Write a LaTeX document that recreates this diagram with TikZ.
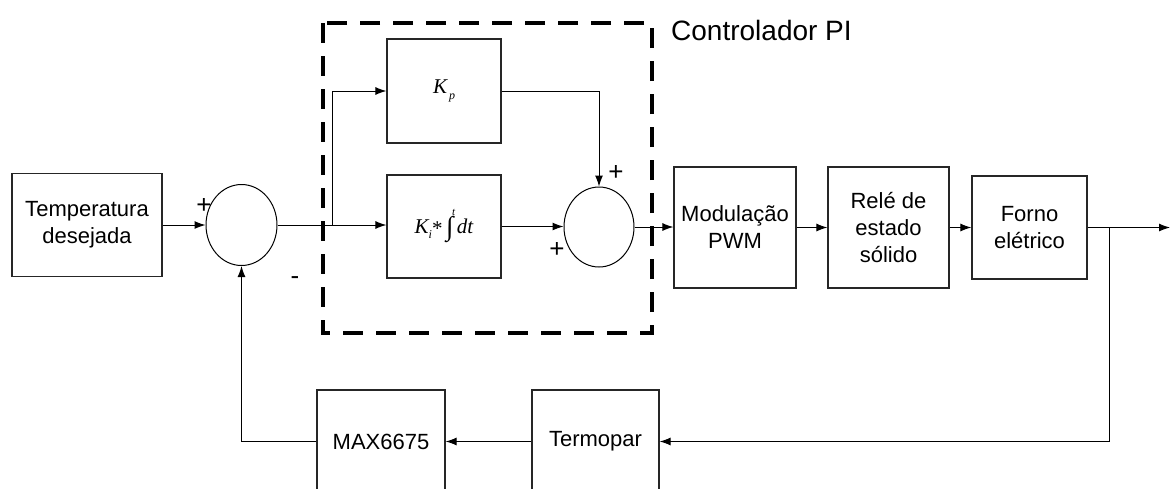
\documentclass[tikz,border=0pt]{standalone}
\usepackage{fontspec}
\setmainfont{Liberation Sans}
\newfontfamily\tms{Liberation Serif}
\usetikzlibrary{arrows.meta,shapes.geometric}
\tikzset{
  blk/.style={draw=black!85,line width=1.2pt,rectangle,inner sep=0pt,align=center,
    font=\fontsize{22}{27}\selectfont},
  sumnode/.style={draw=black,line width=1pt,ellipse,inner sep=0pt,minimum width=71pt,minimum height=81pt},
  arr/.style={line width=1pt,-{Latex[length=11pt,width=8pt]}},
  sgn/.style={font=\fontsize{26}{28}\selectfont,inner sep=0pt},
  dashbox/.style={line width=3.8pt,dash pattern=on 20pt off 13pt}
}
\begin{document}
\begin{tikzpicture}[x=1pt,y=-1pt]
\clip (0,0) rectangle (1170,488);
\useasboundingbox (0,0) rectangle (1170,488);
% blocks
\node[blk,minimum width=150pt,minimum height=103pt] (temp) at (87,225) {Temperatura\\desejada};
\node[sumnode] (s1) at (241.5,225) {};
\node[blk,minimum width=114pt,minimum height=104pt] (kp) at (444,91)
  {\tms\itshape\fontsize{21}{24}\selectfont K\raisebox{-6pt}{\fontsize{12}{12}\selectfont\,p}};
\node[blk,minimum width=114pt,minimum height=103pt] (ki) at (444,226.5)
  {\tms\fontsize{21}{24}\selectfont{\itshape K\raisebox{-5pt}{\fontsize{12}{12}\selectfont i}}\raisebox{-2pt}{*}\,\makebox[0pt][l]{\hspace{6pt}\raisebox{18pt}{\fontsize{11}{11}\selectfont\itshape t}}{\fontsize{27}{27}\selectfont\raisebox{-2pt}{∫}}\,{\itshape dt}};
\node[sumnode,minimum width=70pt,minimum height=80pt] (s2) at (599,227) {};
\node[blk,minimum width=122pt,minimum height=121pt] (pwm) at (735,227.5) {Modulação\\PWM};
\node[blk,minimum width=121pt,minimum height=121pt] (rele) at (888.5,227.5) {Relé de\\estado\\sólido};
\node[blk,minimum width=115pt,minimum height=103pt] (forno) at (1029.5,227.5) {Forno\\elétrico};
\node[blk,minimum width=128pt,minimum height=103pt] (max) at (381,441.5) {MAX6675};
\node[blk,minimum width=127pt,minimum height=103pt] (termo) at (595.5,441.5) {Termopar};
% dashed controller box
\draw[dashbox] (323,23) rectangle (652,333);
\node[anchor=base west,inner sep=0pt,font=\fontsize{28}{32}\selectfont] (ctl) at (671,40) {Controlador PI};
% signs
\node[sgn] (p1) at (204,206) {+};
\node[sgn] (m1) at (295,281) {-};
\node[sgn] (p2) at (616,173) {+};
\node[sgn] (p3) at (557,250) {+};
% coordinates
\coordinate (br) at (332,225);
\coordinate (out) at (1170,227.5);
\coordinate (fb) at (1109,227.5);
% connectors
\draw[arr] (temp.east) -- (s1.west);
\draw[arr] (s1.east) -- (s1.east -| ki.west);
\draw[arr] (br) |- (kp.west);
\draw[arr] (ki.east) -- (ki.east -| s2.west);
\draw[arr] (kp.east) -| (s2.north);
\draw[arr] (s2.east) -- (s2.east -| pwm.west);
\draw[arr] (pwm.east) -- (rele.west);
\draw[arr] (rele.east) -- (forno.west);
\draw[arr] (forno.east) -- (out);
\draw[arr] (fb) |- (termo.east);
\draw[arr] (termo.west) -- (max.east);
\draw[arr] (max.west) -| (s1.south);
\end{tikzpicture}
\end{document}
